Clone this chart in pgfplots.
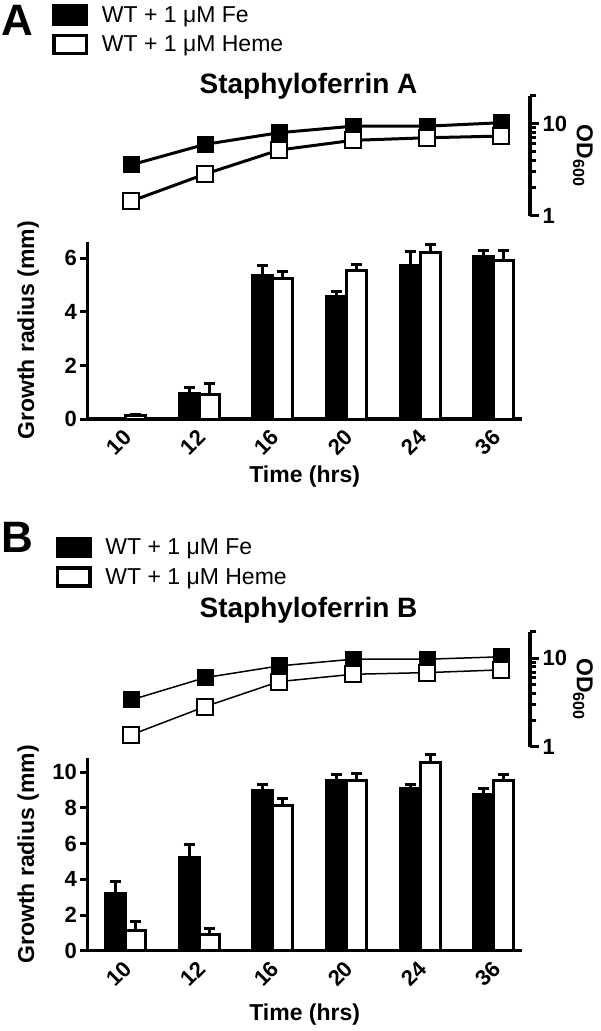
\documentclass[border=0pt]{standalone}
\usepackage{fontspec}
\setmainfont{Liberation Sans}
\usepackage{pgfplots}
\pgfplotsset{compat=1.18}
\newcommand{\fs}[1]{\fontsize{#1}{#1}\selectfont}

\pgfplotsset{
  barbase/.style={
    scale only axis, anchor=south west, width=434.7pt,
    ybar=0pt, bar width=20pt,
    xmin=-0.515, xmax=5.38, ymin=0,
    xtick={0,...,5}, xticklabels={10,12,16,20,24,36},
    xtick style={draw=none},
    x tick label style={font=\bfseries\fs{22}, xshift=5pt, yshift=-5pt, rotate=45, anchor=east},
    y tick label style={font=\bfseries\fs{22}},
    axis x line*=bottom, axis y line*=left,
    axis line style={line width=3.5pt, -},
    ytick style={line width=3pt, black},
    tick align=outside, major tick length=7pt,
    /pgf/number format/assume math mode=true,
    xlabel={Time (hrs)}, ylabel={Growth radius (mm)},
    every axis x label/.style={at={(axis description cs:0.5,0)}, anchor=center, yshift=-58pt, font=\bfseries\fs{23}},
    every axis y label/.style={at={(axis description cs:0,0.5)}, anchor=center, xshift=-59pt, rotate=90, font=\bfseries\fs{23}},
    clip=false,
    legend cell align=left,
    legend image code/.code={\draw[#1, line width=3.5pt] (0pt,-9pt) rectangle (32.5pt,9pt); \path[draw=none, fill=none] (0pt,0pt) -- (48pt,0pt);},
    legend style={draw=none, fill=none, font=\fs{23}, inner sep=0pt, row sep=8pt, anchor=north west,
      nodes={inner sep=0pt}},
  },
  linebase/.style={
    scale only axis, anchor=south west, width=436pt,
    xmin=-0.5, xmax=5.392, ymin=1, ymax=20,
    axis x line=none, axis y line*=right,
    axis line style={line width=3.5pt, -},
    ytick={1,10}, yticklabels={1,10}, minor ytick={2,3,4,5,6,7,8,9,20},
    tick align=outside, major tick length=9pt, minor tick length=6pt,
    tick style={black, line width=3pt},
    y tick label style={font=\bfseries\fs{22}},
    /pgf/number format/assume math mode=true,
    ylabel={OD\textsubscript{600}},
    every axis y label/.style={at={(axis description cs:1,0.5)}, anchor=center, xshift=53pt, rotate=-90, font=\bfseries\fs{23}},
    title style={font=\bfseries\fs{28}, at={(axis description cs:0.5,1)}, anchor=base, xshift=-3.5pt},
    clip=false,
  },
}

\begin{document}
\begin{tikzpicture}
\useasboundingbox (0pt,0pt) rectangle (600pt,-1031pt);

% ---------- Panel A ----------
\node[anchor=north west, inner sep=0pt, font=\bfseries\fs{44}] at (1pt,-5pt) {A};

\begin{semilogyaxis}[linebase, at={(94pt,-215.5pt)}, height=119.7pt,
  title={Staphyloferrin A}, title style={yshift=-4pt}]
\addplot[black, line width=3pt, mark=square*, mark size=8pt,
  mark options={solid, fill=black, draw=black, line width=1pt},
  error bars/y dir=both, error bars/y explicit,
  error bars/error bar style={line width=1pt, black},
  error bars/error mark options={rotate=90, mark size=4pt, line width=1pt, black}]
  coordinates {
  (0,3.55) +- (0,0.2) (1,5.93) +- (0,0.3) (2,7.94) +- (0,0.4)
  (3,9.35) +- (0,0.4) (4,9.35) +- (0,0.4) (5,10.2) +- (0,0.5)};
\addplot[black, line width=3pt, mark=square*, mark size=8pt,
  mark options={solid, fill=white, draw=black, line width=1.8pt},
  error bars/y dir=both, error bars/y explicit,
  error bars/error bar style={line width=1pt, black},
  error bars/error mark options={rotate=90, mark size=4pt, line width=1pt, black}]
  coordinates {
  (0,1.43) +- (0,0.15) (1,2.82) +- (0,0.4) (2,5.15) +- (0,0.45)
  (3,6.56) +- (0,0.4) (4,7.0) +- (0,0.4) (5,7.3) +- (0,0.6)};
\end{semilogyaxis}

\begin{axis}[barbase, at={(87.3pt,-419pt)}, height=177.3pt, ymax=6.62, ytick={0,2,4,6},
  legend style={at={(axis description cs:-0.0812,2.3407)}}]
\addplot[fill=black, draw=black, line width=3pt,
  error bars/y dir=plus, error bars/y explicit,
  error bars/error bar style={line width=3pt, black},
  error bars/error mark options={rotate=90, mark size=5.5pt, line width=3pt, black}]
  coordinates {
  (0,0) +- (0,0) (1,0.96) +- (0,0.21) (2,5.34) +- (0,0.41)
  (3,4.57) +- (0,0.19) (4,5.75) +- (0,0.52) (5,6.06) +- (0,0.23)};
\addplot[fill=white, draw=black, line width=3pt,
  error bars/y dir=plus, error bars/y explicit,
  error bars/error bar style={line width=3pt, black},
  error bars/error mark options={rotate=90, mark size=5.5pt, line width=3pt, black}]
  coordinates {
  (0,0.12) +- (0,0.03) (1,0.90) +- (0,0.43) (2,5.25) +- (0,0.25)
  (3,5.56) +- (0,0.22) (4,6.22) +- (0,0.30) (5,5.91) +- (0,0.38)};
\legend{WT + 1 μM Fe, WT + 1 μM Heme}
\end{axis}

% ---------- Panel B ----------
\node[anchor=north west, inner sep=0pt, font=\bfseries\fs{44}] at (1pt,-522pt) {B};

\begin{semilogyaxis}[linebase, at={(94pt,-746.7pt)}, height=115pt,
  title={Staphyloferrin B}, title style={yshift=8pt}]
\addplot[black, line width=1.5pt, mark=square*, mark size=8pt,
  mark options={solid, fill=black, draw=black, line width=1pt},
  error bars/y dir=both, error bars/y explicit,
  error bars/error bar style={line width=1pt, black},
  error bars/error mark options={rotate=90, mark size=4pt, line width=1pt, black}]
  coordinates {
  (0,3.38) +- (0,0.2) (1,6.04) +- (0,0.3) (2,8.2) +- (0,0.4)
  (3,9.77) +- (0,0.4) (4,9.77) +- (0,0.4) (5,10.4) +- (0,0.5)};
\addplot[black, line width=1.5pt, mark=square*, mark size=8pt,
  mark options={solid, fill=white, draw=black, line width=1.8pt},
  error bars/y dir=both, error bars/y explicit,
  error bars/error bar style={line width=1pt, black},
  error bars/error mark options={rotate=90, mark size=4pt, line width=1pt, black}]
  coordinates {
  (0,1.36) +- (0,0.15) (1,2.84) +- (0,0.4) (2,5.45) +- (0,0.45)
  (3,6.6) +- (0,0.4) (4,6.89) +- (0,0.4) (5,7.4) +- (0,0.6)};
\end{semilogyaxis}

\begin{axis}[barbase, at={(87.3pt,-950.7pt)}, height=192.4pt, ymax=10.78, ytick={0,2,4,6,8,10},
  every axis x label/.append style={yshift=-6pt},
  legend style={at={(axis description cs:-0.0732,2.1518)}}]
\addplot[fill=black, draw=black, line width=3pt,
  error bars/y dir=plus, error bars/y explicit,
  error bars/error bar style={line width=3pt, black},
  error bars/error mark options={rotate=90, mark size=5.5pt, line width=3pt, black}]
  coordinates {
  (0,3.18) +- (0,0.69) (1,5.21) +- (0,0.72) (2,8.97) +- (0,0.32)
  (3,9.51) +- (0,0.38) (4,9.10) +- (0,0.19) (5,8.77) +- (0,0.33)};
\addplot[fill=white, draw=black, line width=3pt,
  error bars/y dir=plus, error bars/y explicit,
  error bars/error bar style={line width=3pt, black},
  error bars/error mark options={rotate=90, mark size=5.5pt, line width=3pt, black}]
  coordinates {
  (0,1.16) +- (0,0.50) (1,0.92) +- (0,0.33) (2,8.13) +- (0,0.41)
  (3,9.53) +- (0,0.41) (4,10.56) +- (0,0.41) (5,9.53) +- (0,0.36)};
\legend{WT + 1 μM Fe, WT + 1 μM Heme}
\end{axis}
\end{tikzpicture}
\end{document}
